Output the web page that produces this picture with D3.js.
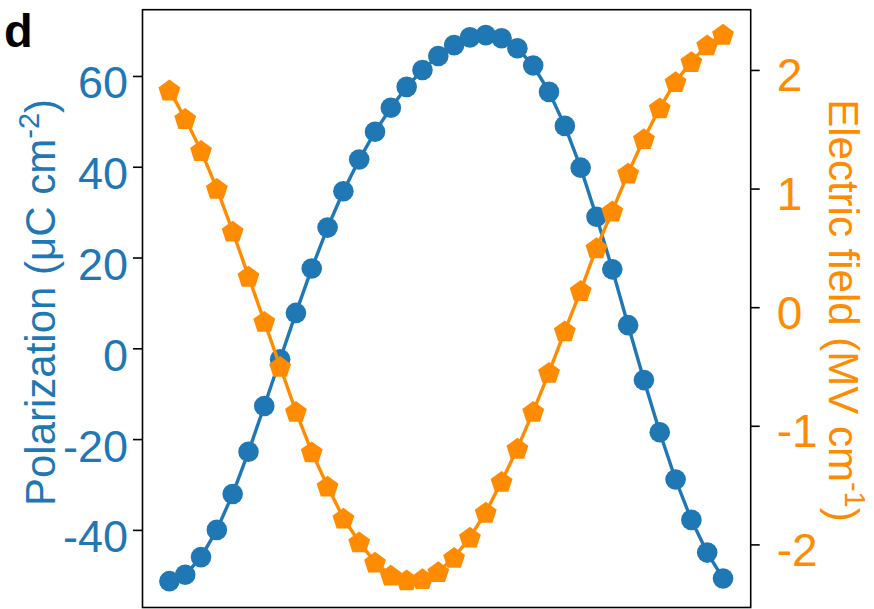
<!DOCTYPE html>
<html>
<head>
<meta charset="utf-8">
<script src="https://cdn.jsdelivr.net/npm/d3@7"></script>
<style>
  html, body { margin: 0; padding: 0; background: #fff; }
  svg { display: block; font-family: "Liberation Sans", Arial, sans-serif; }
</style>
</head>
<body>
<svg id="chart" width="874" height="609"></svg>
<script>
// Measurement index along the switching cycle
const steps = d3.range(36);

// Polarization (µC cm^-2), left axis
const polarization = [
  -51.3, -49.9, -46.0, -40.0, -32.1, -22.8, -12.7, -2.4, 7.8, 17.6,
  26.6, 34.6, 41.6, 47.7, 53.0, 57.6, 61.3, 64.4, 66.8, 68.5,
  69.0, 68.3, 66.1, 62.3, 56.5, 49.0, 39.8, 29.0, 17.4, 5.1,
  -7.0, -18.5, -28.9, -37.8, -45.0, -50.7
];

// Electric field (MV cm^-1), right axis
const field = [
  1.83, 1.59, 1.32, 1.00, 0.64, 0.26, -0.12, -0.50, -0.88, -1.22,
  -1.51, -1.78, -1.98, -2.15, -2.26, -2.30, -2.29, -2.23, -2.11, -1.94,
  -1.73, -1.47, -1.19, -0.88, -0.55, -0.20, 0.14, 0.50, 0.81, 1.13,
  1.42, 1.68, 1.90, 2.07, 2.21, 2.30
];

const leftTicks = [-40, -20, 0, 20, 40, 60];
const rightTicks = [-2, -1, 0, 1, 2];

const blue = "#1f77b4";
const orange = "#ff8c00";

const frame = { left: 142.5, right: 750.7, top: 9.7, bottom: 607.5 };

const svg = d3.select("#chart");

const x = d3.scaleLinear().domain([-1.7, 36.75]).range([frame.left, frame.right]);
const yL = d3.scaleLinear().domain([-57.1, 74.6]).range([frame.bottom, frame.top]);
const yR = d3.scaleLinear().domain([-2.532, 2.508]).range([frame.bottom, frame.top]);

// Left axis
const leftAxis = d3.axisLeft(yL).tickValues(leftTicks).tickSize(9.5).tickPadding(5)
  .tickFormat(d => String(d));
const gL = svg.append("g").attr("transform", `translate(${frame.left},0)`).call(leftAxis);
gL.select(".domain").remove();
gL.selectAll(".tick line").attr("stroke", "#000").attr("stroke-width", 1.6);
gL.selectAll(".tick text")
  .attr("fill", blue).attr("font-size", 45)
  .attr("dy", null).attr("y", 22);

// Right axis
const rightAxis = d3.axisRight(yR).tickValues(rightTicks).tickSize(9).tickPadding(17)
  .tickFormat(d => String(d));
const gR = svg.append("g").attr("transform", `translate(${frame.right},0)`).call(rightAxis);
gR.select(".domain").remove();
gR.selectAll(".tick line").attr("stroke", "#000").attr("stroke-width", 1.6);
gR.selectAll(".tick text")
  .attr("fill", orange).attr("font-size", 46)
  .attr("dy", null).attr("y", 21);

// Plot frame
svg.append("rect")
  .attr("x", frame.left).attr("y", frame.top)
  .attr("width", frame.right - frame.left).attr("height", frame.bottom - frame.top)
  .attr("fill", "none").attr("stroke", "#000").attr("stroke-width", 1.6);

// Polarization series
const lineL = d3.line().x((d, i) => x(steps[i])).y(d => yL(d));
svg.append("path").datum(polarization)
  .attr("d", lineL).attr("fill", "none").attr("stroke", blue).attr("stroke-width", 3.4);
svg.append("g").selectAll("circle").data(polarization).join("circle")
  .attr("cx", (d, i) => x(steps[i])).attr("cy", d => yL(d))
  .attr("r", 10.3).attr("fill", blue);

// Electric field series, pentagon markers
const pentagon = {
  draw(context, size) {
    const r = Math.sqrt(size);
    for (let k = 0; k < 5; k++) {
      const a = -Math.PI / 2 + k * 2 * Math.PI / 5;
      const px = r * Math.cos(a), py = r * Math.sin(a);
      if (k === 0) context.moveTo(px, py); else context.lineTo(px, py);
    }
    context.closePath();
  }
};
const lineR = d3.line().x((d, i) => x(steps[i])).y(d => yR(d));
svg.append("path").datum(field)
  .attr("d", lineR).attr("fill", "none").attr("stroke", orange).attr("stroke-width", 3.4);
svg.append("g").selectAll("path").data(field).join("path")
  .attr("transform", (d, i) => `translate(${x(steps[i])},${yR(d) + 1})`)
  .attr("d", d3.symbol().type(pentagon).size(11.5 * 11.5))
  .attr("fill", orange);

// Axis titles
const tL = svg.append("text")
  .attr("transform", "translate(55,302.5) rotate(-90)")
  .attr("text-anchor", "middle").attr("fill", blue).attr("font-size", 42);
tL.append("tspan").text("Polarization (μC cm");
tL.append("tspan").attr("dy", -16).attr("font-size", 29).text("-2");
tL.append("tspan").attr("dy", 16).text(")");

const tR = svg.append("text")
  .attr("transform", "translate(829,310.5) rotate(90)")
  .attr("text-anchor", "middle").attr("fill", orange).attr("font-size", 42);
tR.append("tspan").text("Electric field (MV cm");
tR.append("tspan").attr("dy", -16).attr("font-size", 29).text("-1");
tR.append("tspan").attr("dy", 16).text(")");

// Panel letter
svg.append("text").attr("x", 4).attr("y", 47)
  .attr("font-size", 47).attr("font-weight", "bold").attr("fill", "#000").text("d");
</script>
</body>
</html>
